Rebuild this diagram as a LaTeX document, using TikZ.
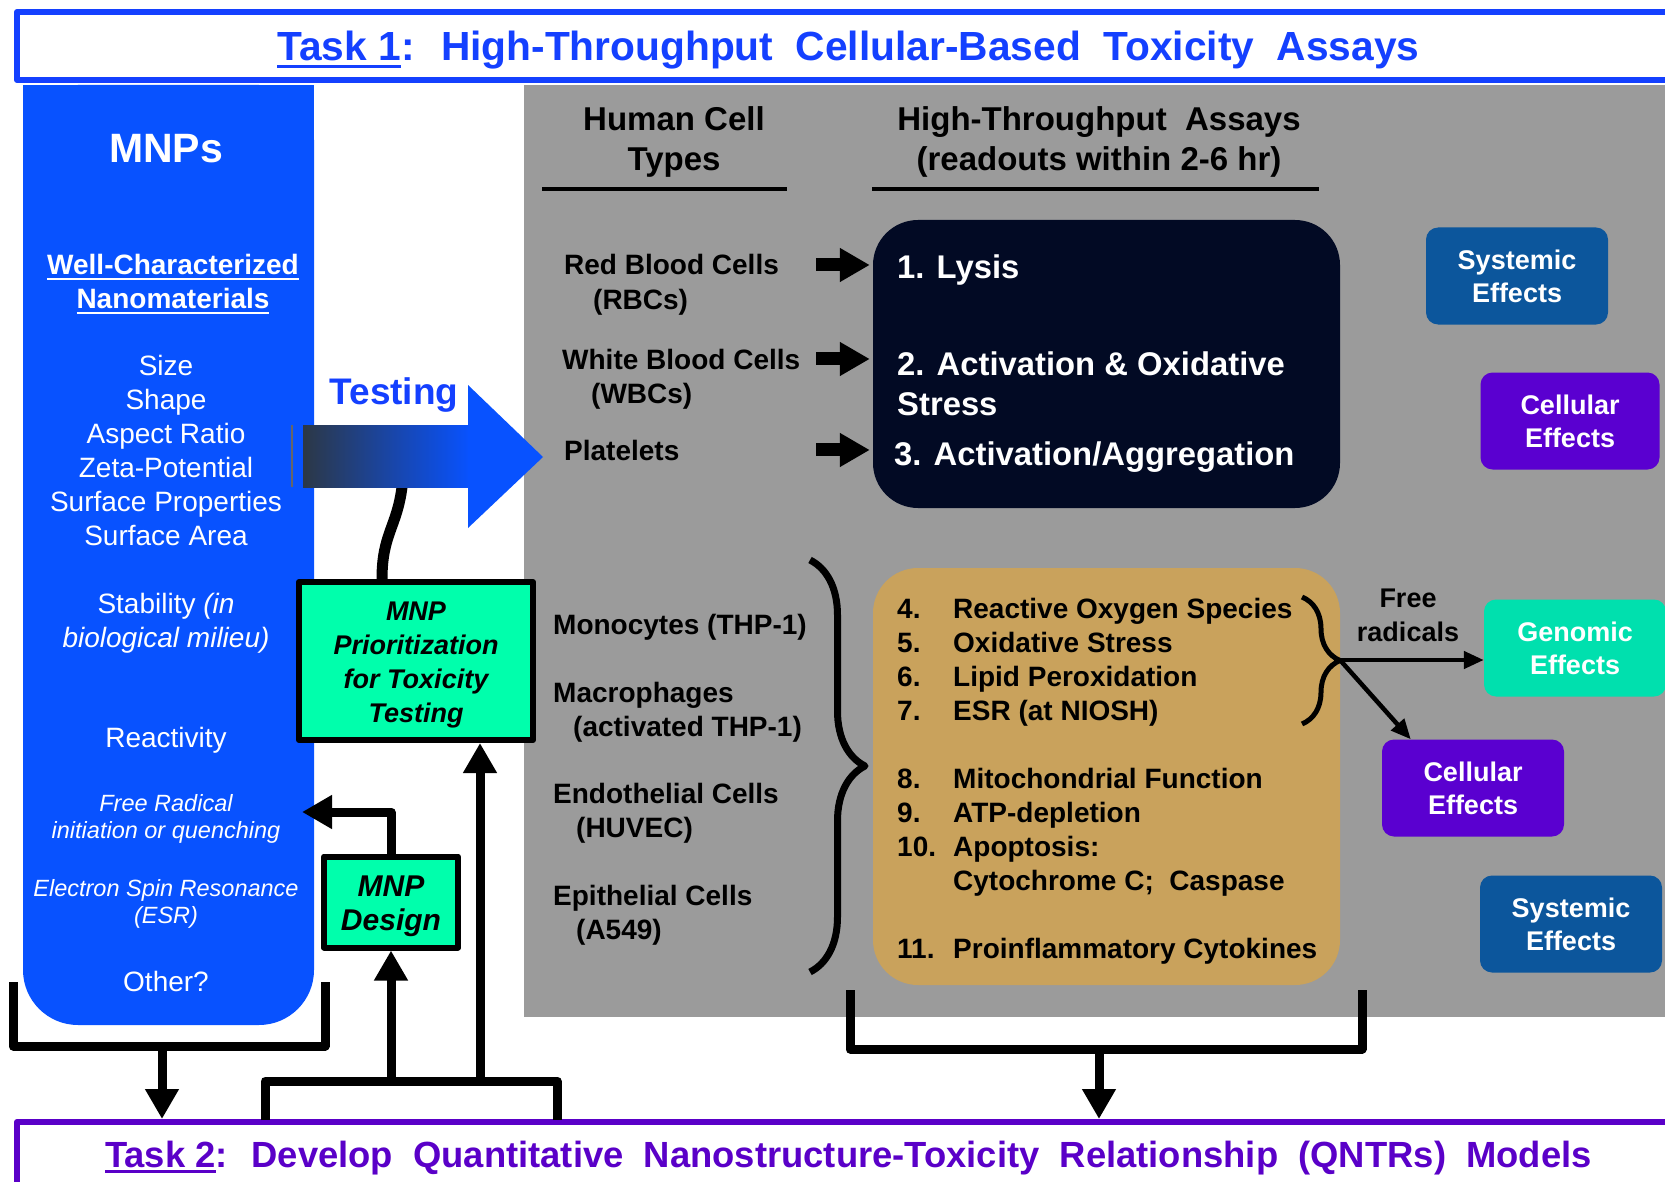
\documentclass[tikz,border=0pt]{standalone}
\usepackage{fontspec}
\setmainfont{Liberation Sans}
\usetikzlibrary{positioning,arrows.meta,decorations.pathreplacing}

\definecolor{taskblue}{RGB}{20,64,255}
\definecolor{mnpblue}{RGB}{8,82,255}
\definecolor{panelgray}{RGB}{155,155,155}
\definecolor{mintgreen}{RGB}{0,255,172}
\definecolor{nightnavy}{RGB}{2,10,36}
\definecolor{sandtan}{RGB}{201,162,92}
\definecolor{steelblue}{RGB}{12,86,156}
\definecolor{cellviolet}{RGB}{90,0,208}
\definecolor{genteal}{RGB}{0,224,174}
\definecolor{taskpurple}{RGB}{90,0,200}
\definecolor{arrowdark}{RGB}{44,56,70}
\definecolor{arrowmid}{RGB}{12,20,38}

\newcommand{\undertext}[2][3pt]{\setbox0\hbox{#2}\rlap{\rule[-0.17em]{\wd0}{#1}}\box0}

\begin{document}
\begin{tikzpicture}[x=1pt, y=-1pt, line join=round,
    taskbox/.style={draw=#1, line width=6pt, minimum width=1663pt, minimum height=68pt, inner sep=0pt, text depth=0pt, text=#1},
    mnptext/.style={text=white, align=center, inner sep=0pt, font=\fontsize{28}{34}\selectfont},
    cellname/.style={anchor=base west, inner sep=0pt, text=black, font=\bfseries\fontsize{28}{34}\selectfont},
    heading/.style={align=center, inner sep=0pt, text=black, font=\bfseries\fontsize{33}{40}\selectfont},
    assaytext/.style={anchor=base west, inner sep=0pt, text=white, font=\bfseries\fontsize{32.8}{40}\selectfont},
    effectbox/.style={fill=#1, rounded corners=12pt, minimum width=182pt, minimum height=97pt, inner sep=0pt, align=center, text=white, font=\bfseries\fontsize{27}{33}\selectfont},
    prioritybox/.style={draw=black, line width=6pt, fill=mintgreen, inner sep=0pt},
    prioritytext/.style={align=center, inner sep=0pt, font=\bfseries\itshape\fontsize{27}{34}\selectfont},
    flowarrow/.style={line width=9pt, -{Triangle[width=32pt,length=30pt]}},
    bracketline/.style={line width=9pt},
    blockarrow/.style={line width=13pt, -{Triangle[width=32pt,length=30pt]}, shorten >=3pt},
    fanarrow/.style={line width=4.5pt, -{Triangle[width=17pt,length=20pt]}},
    curlybrace/.style={decorate, decoration={brace, amplitude=#1}, line width=7pt},
    headrule/.style={line width=4pt}
]
\useasboundingbox (0,0) rectangle (1665,1182);
\fill[white] (0,0) rectangle (1665,1182);

% ==========================================
% 1. Background panels
% ==========================================
\fill[panelgray] (524,85) rectangle (1700,1017);
\fill[mnpblue, rounded corners=55pt] (23,85) rectangle (314,1025);
\fill[mnpblue] (23,85) rectangle (314,300);

% ==========================================
% 2. Task banners
% ==========================================
\node[taskbox=taskblue, font=\bfseries\fontsize{40.7}{48}\selectfont] (task1) at (848.5,46)
    {\undertext{Task 1}:~ High-Throughput~ Cellular-Based~ Toxicity~ Assays};
\node[taskbox=taskpurple, minimum height=64pt, font=\bfseries\fontsize{36.4}{44}\selectfont] (task2) at (848.5,1154)
    {\undertext{Task 2}:~ Develop~ Quantitative~ Nanostructure-Toxicity~ Relationship~ (QNTRs)~ Models};

% ==========================================
% 3. MNP column
% ==========================================
\node[mnptext, font=\bfseries\fontsize{41}{48}\selectfont] (mnps) at (166,149) {MNPs};
\node[mnptext, font=\bfseries\fontsize{28}{34}\selectfont] (wellchar) at (173,284)
    {\undertext[2pt]{Well-Characterized}\\\undertext[2pt]{Nanomaterials}};
\node[mnptext] (props) at (166,450)
    {Size\\Shape\\Aspect Ratio\\Zeta-Potential\\Surface Properties\\Surface Area};
\node[mnptext] (stability) at (166,623) {Stability \textit{(in}\\\textit{biological milieu)}};
\node[mnptext] (reactivity) at (166,740) {Reactivity};
\node[mnptext, font=\itshape\fontsize{23.5}{27}\selectfont] (freerad) at (166,819)
    {Free Radical\\initiation or quenching};
\node[mnptext, font=\itshape\fontsize{23.5}{27}\selectfont] (esr) at (166,904)
    {Electron Spin Resonance\\(ESR)};
\node[mnptext] (other) at (166,981) {Other?};

% ==========================================
% 4. Testing arrow and prioritization
% ==========================================
\coordinate (testbase) at (402,487);
\node[prioritybox, minimum width=234pt, minimum height=158pt] (prio) at (416,661) {};
\node[prioritytext] (priotext) at ([yshift=-4pt]prio.center) {MNP\\Prioritization\\for Toxicity\\Testing};
\draw[line width=11pt] ([xshift=-34pt]prio.north) .. controls +(0,-45) and +(-5,40) .. (testbase);
\shade[left color=arrowdark, middle color=arrowmid, right color=mnpblue] (303,425) rectangle (470,487);
\fill[mnpblue] (468,385) -- (543,457) -- (468,528) -- cycle;
\draw[line width=2pt, black!60] (292,425) -- (292,487);
\node[text=taskblue, inner sep=0pt, font=\bfseries\fontsize{37}{40}\selectfont] (testlabel) at (394,395) {Testing};

\node[prioritybox, minimum width=134pt, minimum height=91pt] (design) at (391,902) {};
\node[prioritytext, font=\bfseries\itshape\fontsize{30}{34}\selectfont] (designtext) at ([yshift=-4pt]design.center) {MNP\\Design};
\coordinate (mnpedge) at (302,812);
\draw[flowarrow] (design.north) |- (mnpedge);

% ==========================================
% 5. Human cell types and assays
% ==========================================
\node[heading] (celltypes) at (674,142) {Human Cell\\Types};
\node[heading] (assayhead) at (1099,142) {High-Throughput~ Assays\\(readouts within 2-6 hr)};
\draw[headrule] (542,189) -- (787,189);
\draw[headrule] (872,189) -- (1319,189);

\node[fill=nightnavy, rounded corners=45pt, minimum width=467pt, minimum height=288pt] (assaybox) at (1106.5,364) {};
\node[fill=sandtan, rounded corners=45pt, minimum width=467pt, minimum height=417pt] (stressbox) at (1106.5,776.5) {};

\node[cellname] (rbc) at (564,275) {Red Blood Cells};
\node[cellname] (rbcabbr) at (593,309) {(RBCs)};
\node[cellname] (wbc) at (562,369) {White Blood Cells};
\node[cellname] (wbcabbr) at (591,403) {(WBCs)};
\node[cellname] (platelets) at (564,460) {Platelets};

\node[assaytext] (lysis) at (897,279) {1. Lysis};
\node[assaytext] (actox) at (897,375) {2. Activation \& Oxidative};
\node[assaytext] (stress) at (897,415) {Stress};
\node[assaytext] (aggr) at (894,465) {3. Activation/Aggregation};

\coordinate (arrowstart) at (816,0);
\draw[blockarrow] (arrowstart |- rbc) -- (assaybox.west |- rbc);
\draw[blockarrow] (arrowstart |- wbc) -- (assaybox.west |- wbc);
\draw[blockarrow] (arrowstart |- platelets) -- (assaybox.west |- platelets);

\node[cellname] (mono) at (553,634) {Monocytes (THP-1)};
\node[cellname] (macro) at (553,702) {Macrophages};
\node[cellname] (macroact) at (573,736) {(activated THP-1)};
\node[cellname] (endo) at (553,803) {Endothelial Cells};
\node[cellname] (huvec) at (576,837) {(HUVEC)};
\node[cellname] (epi) at (553,905) {Epithelial Cells};
\node[cellname] (alung) at (576,939) {(A549)};

\draw[curlybrace=55pt] (810,560) -- (810,972);

\node[anchor=north west, inner sep=0pt, text=black, font=\bfseries\fontsize{28}{34}\selectfont] (stresslist) at (897,594)
    {\begin{tabular}{@{}p{56pt}@{}l@{}}
     4. & Reactive Oxygen Species\\
     5. & Oxidative Stress\\
     6. & Lipid Peroxidation\\
     7. & ESR (at NIOSH)\\[34pt]
     8. & Mitochondrial Function\\
     9. & ATP-depletion\\
     10. & Apoptosis:\\
         & Cytochrome C;~ Caspase\\[34pt]
     11. & Proinflammatory Cytokines
     \end{tabular}};

% ==========================================
% 6. Effects
% ==========================================
\node[effectbox=steelblue] (systop) at (1517,276) {Systemic\\Effects};
\node[effectbox=cellviolet, minimum width=179pt] (celltop) at (1570,421) {Cellular\\Effects};
\node[effectbox=genteal] (genomic) at (1575,648) {Genomic\\Effects};
\node[effectbox=cellviolet] (cellmid) at (1473,788) {Cellular\\Effects};
\node[effectbox=steelblue] (sysbot) at (1571,924) {Systemic\\Effects};

\draw[curlybrace=38pt, line width=5pt] (1302,597) -- (1302,724);
\coordinate (radtip) at (1340,660);
\draw[fanarrow] (radtip) -- (radtip -| genomic.west);
\draw[fanarrow] (radtip) -- ([xshift=29pt]cellmid.north west);
\node[align=center, inner sep=0pt, text=black, font=\bfseries\fontsize{27}{34}\selectfont] (freelabel) at (1408,615) {Free\\radicals};

% ==========================================
% 7. Feedback into Task 2
% ==========================================
\draw[bracketline] (13,982) -- (13,1046) -- (325,1046) -- (325,982);
\coordinate (mnpfoot) at (162,1046);
\draw[flowarrow] (mnpfoot) -- (mnpfoot |- task2.north);

\draw[bracketline] (850,990) -- (850,1049) -- (1362,1049) -- (1362,990);
\coordinate (assayfoot) at (1099,1049);
\draw[flowarrow] (assayfoot) -- (assayfoot |- task2.north);

\draw[bracketline] (265,1120) -- (265,1081) -- (557,1081) -- (557,1120);
\coordinate (designin) at (391,1081);
\coordinate (prioin) at (480,1081);
\draw[flowarrow] (designin) -- (design.south);
\draw[flowarrow] (prioin) -- (prioin |- prio.south);

\end{tikzpicture}
\end{document}
